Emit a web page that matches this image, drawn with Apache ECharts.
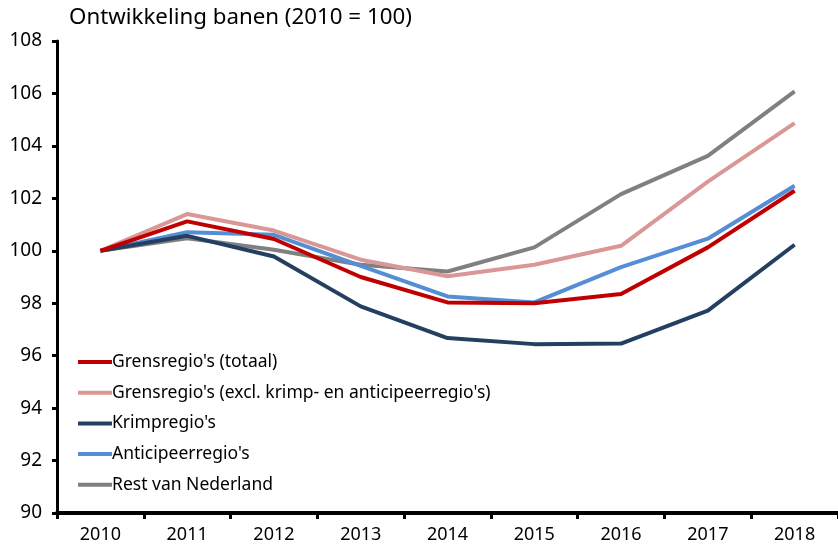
<!DOCTYPE html>
<html lang="nl">
<head>
<meta charset="UTF-8">
<title>Ontwikkeling banen</title>
<script src="https://cdn.jsdelivr.net/npm/echarts@6/dist/echarts.min.js"></script>
<style>
  html, body { margin: 0; padding: 0; background: #fff; }
  #chart { width: 838px; height: 549px; }
</style>
</head>
<body>
<div id="chart"></div>
<script>
// jaren op de x-as
var jaren = ['2010', '2011', '2012', '2013', '2014', '2015', '2016', '2017', '2018'];

// index 2010 = 100
var grensTotaal = [100, 101.12, 100.45, 99.0, 98.03, 98.0, 98.35, 100.13, 102.29];
var grensExcl   = [100, 101.4, 100.77, 99.66, 99.03, 99.47, 100.19, 102.64, 104.87];
var krimp       = [100, 100.57, 99.78, 97.88, 96.67, 96.44, 96.46, 97.72, 100.23];
var anticipeer  = [100, 100.71, 100.61, 99.42, 98.26, 98.03, 99.38, 100.46, 102.48];
var restNL      = [100, 100.48, 100.04, 99.47, 99.21, 100.13, 102.16, 103.62, 106.08];

var namen = [
  "Grensregio's (totaal)",
  "Grensregio's (excl. krimp- en anticipeerregio's)",
  "Krimpregio's",
  "Anticipeerregio's",
  "Rest van Nederland"
];
var kleuren = ['#c00000', '#d99795', '#243f60', '#558ed5', '#808080'];

var reeksen = [grensTotaal, grensExcl, krimp, anticipeer, restNL];
var font = 'Noto Sans';

var chart = echarts.init(document.getElementById('chart'));

var series = reeksen.map(function (d, i) {
  return {
    name: namen[i],
    type: 'line',
    data: d,
    symbol: 'none',
    z: 10 - i,
    lineStyle: { width: 4, color: kleuren[i], join: 'round' },
    itemStyle: { color: kleuren[i] }
  };
});

chart.setOption({
  animation: false,
  title: {
    text: 'Ontwikkeling banen (2010 = 100)',
    left: 64,
    top: 2,
    textStyle: { fontFamily: font, fontSize: 22.3, fontWeight: 'normal', color: '#000' }
  },
  legend: {
    orient: 'vertical',
    left: 73,
    top: 348,
    itemWidth: 34,
    itemHeight: 4,
    itemGap: 12.7,
    icon: 'rect',
    data: namen,
    textStyle: { fontFamily: font, fontSize: 17.5, color: '#000', padding: [0, 0, 0, -5] }
  },
  grid: { left: 57, top: 41, height: 472, width: 789 },
  xAxis: {
    type: 'category',
    data: jaren,
    boundaryGap: true,
    axisLine: { lineStyle: { color: '#000', width: 4 } },
    axisTick: { show: true, length: 6, lineStyle: { color: '#000', width: 3 } },
    axisLabel: { fontFamily: font, fontSize: 18, color: '#000', margin: 13 },
    splitLine: { show: false }
  },
  yAxis: {
    type: 'value',
    min: 90,
    max: 108,
    interval: 2,
    axisLine: { show: true, lineStyle: { color: '#000', width: 3 } },
    axisTick: { show: true, length: 5, lineStyle: { color: '#000', width: 3 } },
    axisLabel: { fontFamily: font, fontSize: 19, color: '#000', margin: 15 },
    splitLine: { show: false }
  },
  series: series
});
</script>
</body>
</html>
